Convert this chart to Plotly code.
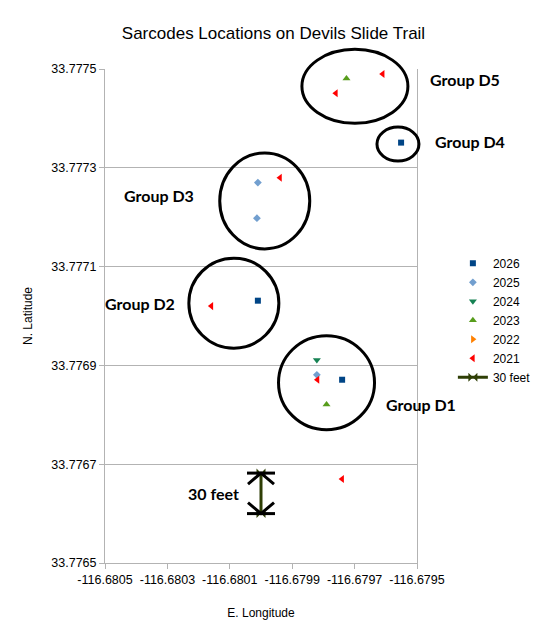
import plotly.graph_objects as go

# ---- data ----
lon_2026 = [-116.679551, -116.680010, -116.679740]
lat_2026 = [33.777351, 33.777031, 33.776871]
lon_2025 = [-116.680010, -116.680013, -116.679821]
lat_2025 = [33.777270, 33.777198, 33.776881]
lon_2024 = [-116.679821]
lat_2024 = [33.776911]
lon_2023 = [-116.679726, -116.679790]
lat_2023 = [33.777481, 33.776821]
lon_2022 = []
lat_2022 = []
lon_2021 = [-116.679610, -116.679760, -116.679939, -116.680159, -116.679819, -116.679740]
lat_2021 = [33.777490, 33.777451, 33.777280, 33.777020, 33.776871, 33.776670]
lon_30ft = [-116.680000, -116.680000]
lat_30ft = [33.776600, 33.776682]

series_names = ["2026", "2025", "2024", "2023", "2022", "2021"]

x_range = [-116.6805, -116.6795]
y_range = [33.7765, 33.7775]
x_tickvals = [-116.6805, -116.6803, -116.6801, -116.6799, -116.6797, -116.6795]
y_tickvals = [33.7765, 33.7767, 33.7769, 33.7771, 33.7773, 33.7775]

# group annotation ellipses (centre lon/lat)
group_names = ["Group D5", "Group D4", "Group D3", "Group D2", "Group D1"]
group_lon = [-116.679699, -116.679561, -116.679988, -116.680087, -116.679790]
group_lat = [33.777465, 33.777348, 33.777233, 33.777026, 33.776865]

# ---- styles ----
colors = ["#004586", "#729fcf", "#168253", "#579d1c", "#ff8000", "#ff0000"]
symbols = ["square", "diamond", "triangle-down", "triangle-up", "triangle-right", "triangle-left"]
sizes = [6, 6, 7, 7, 7, 7]
ell_rx = [53, 21, 45, 45, 48]
ell_ry = [37, 17, 48, 45, 47]
label_pos = [(1.154, 0.978), (1.170, 0.854), (0.172, 0.743), (0.111, 0.526), (1.013, 0.320)]


def to_px(v):
    return (v - x_range[0]) / (x_range[1] - x_range[0])


def to_py(v):
    return (v - y_range[0]) / (y_range[1] - y_range[0])


fig = go.Figure()
lons = [lon_2026, lon_2025, lon_2024, lon_2023, lon_2022, lon_2021]
lats = [lat_2026, lat_2025, lat_2024, lat_2023, lat_2022, lat_2021]
for name, xs, ys, c, s, sz in zip(series_names, lons, lats, colors, symbols, sizes):
    fig.add_trace(go.Scatter(x=xs if xs else [None], y=ys if ys else [None], mode="markers", name=name,
                             marker=dict(color=c, symbol=s, size=sz, line=dict(width=0))))
fig.add_trace(go.Scatter(x=lon_30ft, y=lat_30ft, mode="lines+markers", name="30 feet",
                         line=dict(color="#2f3f06", width=3),
                         marker=dict(symbol="bowtie", size=9, color="#2f3f06")))

shapes = []
# ellipses in paper coords so they are not clipped by the plot area
for gx, gy, rx, ry in zip(group_lon, group_lat, ell_rx, ell_ry):
    shapes.append(dict(type="circle", xref="paper", yref="paper", xsizemode="pixel", ysizemode="pixel",
                       xanchor=to_px(gx), yanchor=to_py(gy), x0=-rx, x1=rx, y0=-ry, y1=ry,
                       line=dict(color="black", width=3)))
# 30-feet dimension marker (bars + arrowheads)
ax = lon_30ft[0]
for yv, sgn in ((lat_30ft[1], -1), (lat_30ft[0], 1)):
    shapes.append(dict(type="line", xref="x", yref="y", xsizemode="pixel", ysizemode="pixel",
                       xanchor=ax, yanchor=yv, x0=-14, x1=14, y0=0, y1=0,
                       line=dict(color="black", width=3)))
    shapes.append(dict(type="path", xref="x", yref="y", xsizemode="pixel", ysizemode="pixel",
                       xanchor=ax, yanchor=yv,
                       path=f"M -13 {sgn*11} L 0 0 L 13 {sgn*11}",
                       line=dict(color="black", width=3)))

lab_font = dict(family="Lato", size=16, color="black", weight="bold")
annotations = [dict(text=n, x=p[0], y=p[1], xref="paper", yref="paper", showarrow=False,
                    xanchor="center", yanchor="middle", font=lab_font)
               for n, p in zip(group_names, label_pos)]
annotations.append(dict(text="30 feet", x=0.349, y=0.140, xref="paper", yref="paper",
                        showarrow=False, xanchor="center", yanchor="middle", font=lab_font))

fig.update_layout(
    width=547, height=637,
    margin=dict(l=105, r=130, t=69, b=74, autoexpand=False),
    paper_bgcolor="white", plot_bgcolor="white",
    font=dict(family="Liberation Sans", size=12, color="black"),
    title=dict(text="Sarcodes Locations on Devils Slide Trail", x=0.5, xanchor="center",
               y=0.948, yanchor="middle", font=dict(size=17, family="Liberation Sans")),
    xaxis=dict(range=x_range, tickvals=x_tickvals,
               ticktext=[f"{v:.4f}" for v in x_tickvals], automargin=False,
               showgrid=False, zeroline=False, showline=True, linecolor="#b3b3b3", linewidth=1,
               ticks="outside", ticklen=5, tickcolor="#b3b3b3", mirror=False,
               tickfont=dict(size=12.5),
               title=dict(text="E. Longitude", font=dict(size=12), standoff=22)),
    yaxis=dict(range=y_range, tickvals=y_tickvals,
               ticktext=[f"{v:.4f}" for v in y_tickvals], automargin=False,
               showgrid=True, gridcolor="#b3b3b3", zeroline=False, showline=True, linecolor="#b3b3b3",
               linewidth=1, ticks="outside", ticklen=5, tickcolor="#b3b3b3", mirror=True,
               tickfont=dict(size=12.5),
               title=dict(text="N. Latitude", font=dict(size=12), standoff=16)),
    legend=dict(x=1.115, y=0.636, xanchor="left", yanchor="top", font=dict(size=12),
                tracegroupgap=0, itemwidth=30, bgcolor="rgba(0,0,0,0)"),
    shapes=shapes, annotations=annotations,
)

fig.write_html("out.html", config={"displayModeBar": False},
               post_script="document.body.style.margin='0';")
